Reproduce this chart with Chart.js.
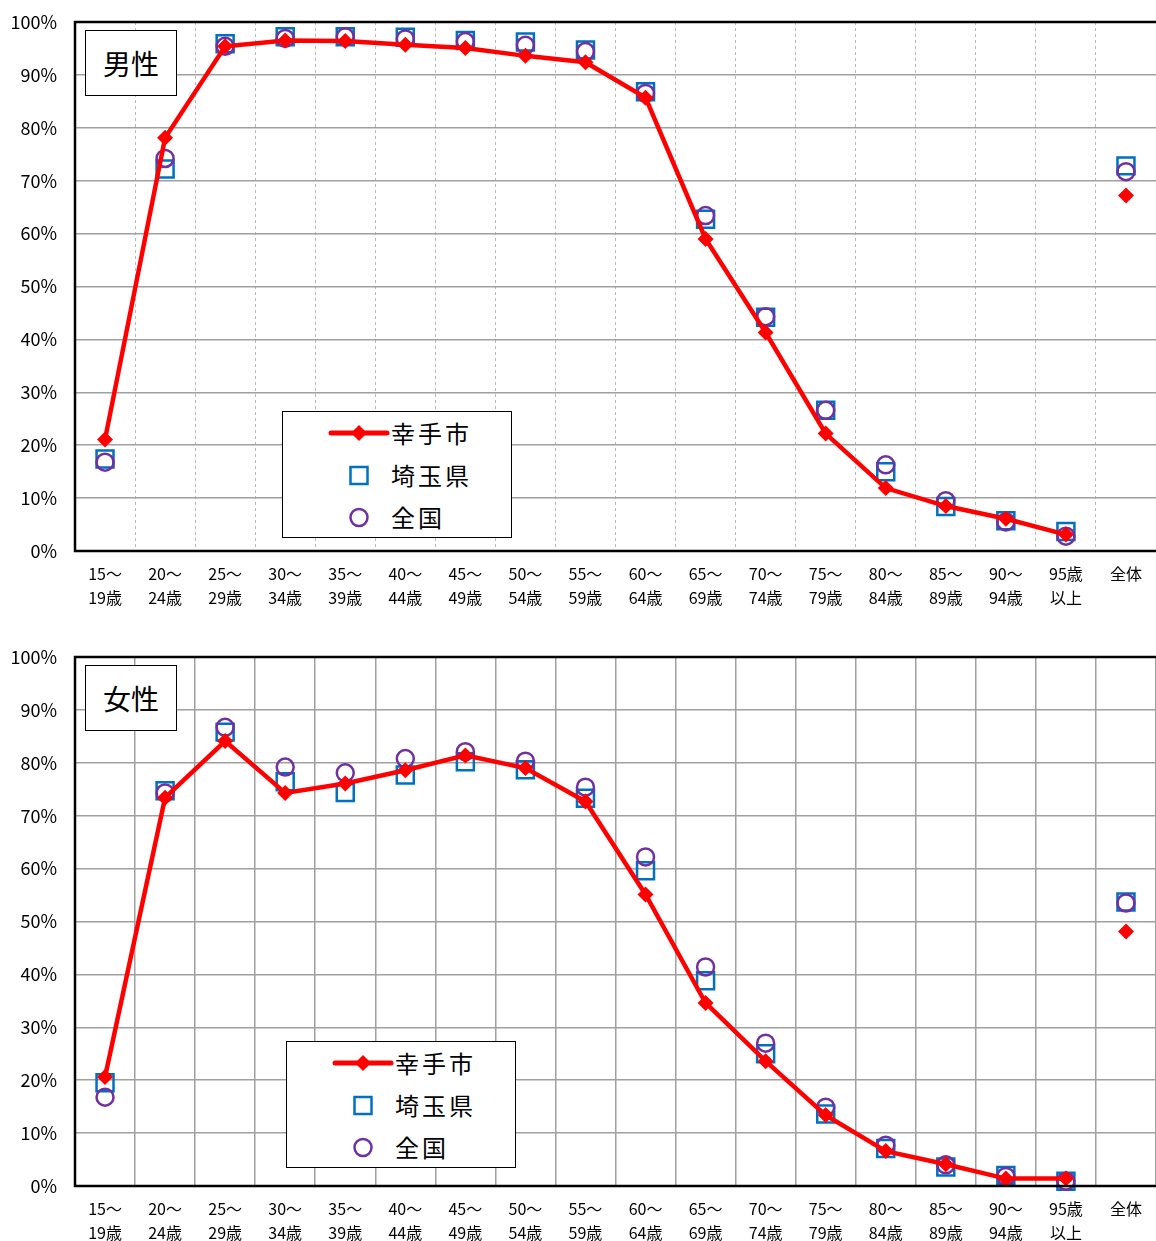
<!DOCTYPE html>
<html>
<head>
<meta charset="utf-8">
<script src="https://cdn.jsdelivr.net/npm/chart.js@4/dist/chart.umd.min.js"></script>
<style>
  html, body { margin: 0; padding: 0; background: #fff; }
  body { width: 1156px; height: 1241px; position: relative; overflow: hidden;
         font-family: "Noto Sans CJK JP", "Noto Sans", sans-serif; }
  .wrap { position: absolute; left: 0; width: 1156px; }
  .wrap canvas { display: block; }
  .title { position: absolute; left: 85px; width: 90px; height: 64px; border: 1px solid #000;
           background: #fff; font-size: 28px; line-height: 64px; text-align: center; color: #000; }
  .legend { position: absolute; width: 228px; height: 125px; border: 1px solid #000; background: #fff; }
  .legend .row { position: absolute; left: 0; height: 40px; width: 228px; }
  .legend .txt { position: absolute; left: 108px; top: 0; font-size: 24px; line-height: 40px;
                 letter-spacing: 3px; color: #000; white-space: nowrap; }
  .legend svg { position: absolute; left: 0; top: 0; }
</style>
</head>
<body>
<div class="wrap" id="w1" style="top:0;height:635px;"><canvas id="c1" width="1156" height="635"></canvas>
  <div class="title" style="top:30px;">男性</div>
  <div class="legend" style="left:282px;top:411px;">
    <div class="row" style="top:1px;"><svg width="108" height="40"><line x1="48" y1="20" x2="104" y2="20" stroke="#ff0000" stroke-width="5" stroke-linecap="round"/><polygon points="76,12 84,20 76,28 68,20" fill="#ff0000"/></svg><div class="txt">幸手市</div></div>
    <div class="row" style="top:43px;"><svg width="108" height="40"><rect x="67.5" y="12" width="17" height="17" fill="none" stroke="#0070c0" stroke-width="2.5"/></svg><div class="txt">埼玉県</div></div>
    <div class="row" style="top:85px;"><svg width="108" height="40"><circle cx="76" cy="20.5" r="8.5" fill="none" stroke="#7030a0" stroke-width="2.5"/></svg><div class="txt">全国</div></div>
  </div>
</div>
<div class="wrap" id="w2" style="top:635px;height:606px;"><canvas id="c2" width="1156" height="606"></canvas>
  <div class="title" style="top:30px;">女性</div>
  <div class="legend" style="left:286px;top:406px;">
    <div class="row" style="top:1px;"><svg width="108" height="40"><line x1="48" y1="20" x2="104" y2="20" stroke="#ff0000" stroke-width="5" stroke-linecap="round"/><polygon points="76,12 84,20 76,28 68,20" fill="#ff0000"/></svg><div class="txt">幸手市</div></div>
    <div class="row" style="top:43px;"><svg width="108" height="40"><rect x="67.5" y="12" width="17" height="17" fill="none" stroke="#0070c0" stroke-width="2.5"/></svg><div class="txt">埼玉県</div></div>
    <div class="row" style="top:85px;"><svg width="108" height="40"><circle cx="76" cy="20.5" r="8.5" fill="none" stroke="#7030a0" stroke-width="2.5"/></svg><div class="txt">全国</div></div>
  </div>
</div>
<script>
// ---- data ----
const categories = [
  ["15～","19歳"],["20～","24歳"],["25～","29歳"],["30～","34歳"],["35～","39歳"],
  ["40～","44歳"],["45～","49歳"],["50～","54歳"],["55～","59歳"],["60～","64歳"],
  ["65～","69歳"],["70～","74歳"],["75～","79歳"],["80～","84歳"],["85～","89歳"],
  ["90～","94歳"],["95歳","以上"],"全体"
];
const seriesNames = ["幸手市","埼玉県","全国"];
const yTicks = [0,10,20,30,40,50,60,70,80,90,100];

const maleSatte   = [21.1,78.1,95.4,96.5,96.4,95.7,95.1,93.6,92.4,85.7,59.0,41.3,22.2,11.9,8.5,6.1,3.1,67.2];
const maleSaitama = [17.4,72.2,95.9,97.2,97.2,97.1,96.5,96.2,94.7,86.8,62.7,44.2,26.6,15.0,8.4,5.7,3.7,72.8];
const maleJapan   = [16.8,74.2,95.4,96.9,97.2,96.8,96.3,95.6,94.4,86.5,63.4,44.3,26.6,16.3,9.5,5.5,2.8,71.7];

const femaleSatte   = [20.6,73.4,84.1,74.3,76.1,78.6,81.4,79.0,72.7,55.1,34.6,23.6,13.4,6.6,4.1,1.4,1.4,48.1];
const femaleSaitama = [19.5,74.7,85.8,76.4,74.4,77.7,80.2,78.7,73.3,59.6,38.8,25.0,13.6,7.1,3.6,2.0,0.9,53.7];
const femaleJapan   = [16.8,74.3,86.7,79.2,78.1,80.8,82.1,80.3,75.4,62.2,41.4,27.0,14.9,7.7,4.0,1.8,0.9,53.5];

// ---- chart builder ----
const framePlugin = {
  id: 'frame',
  afterDraw(chart) {
    const {ctx, chartArea: a} = chart;
    ctx.save();
    ctx.strokeStyle = '#000';
    ctx.lineWidth = 2.5;
    ctx.setLineDash([]);
    ctx.beginPath();
    ctx.moveTo(a.left, a.top); ctx.lineTo(a.right + 2, a.top);
    ctx.moveTo(a.left, a.top - 1.25); ctx.lineTo(a.left, a.bottom + 1.25);
    ctx.moveTo(a.left, a.bottom); ctx.lineTo(a.right + 2, a.bottom);
    ctx.stroke();
    ctx.restore();
  }
};

function makeChart(id, satte, saitama, japan, dashedVertical, canvasH) {
  const lastIdx = categories.length - 1;
  return new Chart(document.getElementById(id), {
    type: 'line',
    data: {
      labels: categories,
      datasets: [
        {
          label: seriesNames[0], data: satte,
          borderColor: '#ff0000', backgroundColor: '#ff0000', borderWidth: 4.5,
          pointStyle: 'rectRot', pointRadius: 8, pointBorderWidth: 0,
          tension: 0, order: 0, clip: false,
          segment: { borderColor: c => c.p1DataIndex === lastIdx ? 'rgba(0,0,0,0)' : '#ff0000' }
        },
        {
          label: seriesNames[1], data: saitama, showLine: false, clip: false,
          borderColor: '#0070c0', backgroundColor: 'rgba(0,0,0,0)',
          pointStyle: 'rect', pointRadius: 12, pointBorderWidth: 2.5, order: 2
        },
        {
          label: seriesNames[2], data: japan, showLine: false, clip: false,
          borderColor: '#7030a0', backgroundColor: 'rgba(0,0,0,0)',
          pointStyle: 'circle', pointRadius: 8.5, pointBorderWidth: 2.5, order: 1
        }
      ]
    },
    options: {
      responsive: false, animation: false, events: [],
      layout: { autoPadding: false, padding: { top: 22, right: 0, left: 0, bottom: 0 } },
      plugins: { legend: { display: false }, tooltip: { enabled: false } },
      scales: {
        x: {
          offset: true,
          grid: { offset: true, drawTicks: false, color: dashedVertical ? '#b8b8b8' : '#a0a0a0', lineWidth: dashedVertical ? 1 : 1.5 },
          border: { display: false, dash: dashedVertical ? [3, 3] : [] },
          ticks: { color: '#000', padding: 11, maxRotation: 0, autoSkip: false,
                   font: { family: '"Noto Sans CJK JP", sans-serif', size: 16, lineHeight: '24px' } },
          afterFit(s) { s.height = canvasH - 551; s.paddingLeft = 0; s.paddingRight = 0; }
        },
        y: {
          min: 0, max: 100,
          afterBuildTicks(s) { s.ticks = yTicks.map(v => ({ value: v })); },
          grid: { drawTicks: false, color: '#a0a0a0', lineWidth: 1.5 },
          border: { display: false },
          ticks: { color: '#000', padding: 18, callback: v => v + '%',
                   font: { family: '"Noto Sans CJK JP", sans-serif', size: 18 } },
          afterFit(s) { s.width = 75; s.paddingTop = 0; s.paddingBottom = 0; }
        }
      }
    },
    plugins: [framePlugin]
  });
}

makeChart('c1', maleSatte, maleSaitama, maleJapan, true, 635);
makeChart('c2', femaleSatte, femaleSaitama, femaleJapan, false, 606);
</script>
</body>
</html>
